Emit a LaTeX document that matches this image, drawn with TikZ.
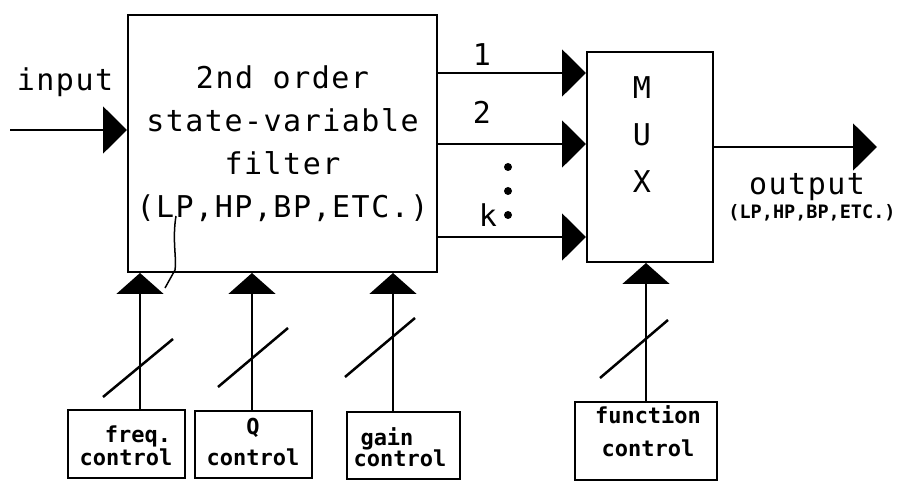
\documentclass[tikz,border=0pt]{standalone}
\usepackage{fontspec}
\newfontfamily\dmono[LetterSpace=5]{DejaVu Sans Mono}
\newfontfamily\dmonob{DejaVu Sans Mono}
\usetikzlibrary{arrows.meta}
\begin{document}
\begin{tikzpicture}[x=1pt,y=-1pt, line width=2pt,
  box/.style={draw, line width=2pt, inner sep=0pt},
  bigr/.style={-{Triangle[length=24pt,width=47pt]}},
  bigu/.style={-{Triangle[length=21pt,width=47pt]}},
  slash/.style={line width=2.5pt},
  maintext/.style={font=\dmono\fontsize{30}{43}\selectfont, inner sep=0pt},
  muxtext/.style={font=\dmono\fontsize{30}{47}\selectfont, inner sep=0pt, align=center},
  smalltext/.style={font=\dmonob\bfseries\fontsize{18.5}{20}\selectfont, inner sep=0pt},
  ctrltext/.style={font=\dmonob\bfseries\fontsize{22}{23}\selectfont, align=center, inner sep=0pt},
  dot/.style={circle, fill, inner sep=0pt, minimum size=8pt},
]
\useasboundingbox (0,0) rectangle (898,481);
\fill[white] (0,0) rectangle (898,481);

% main blocks
\node[box, minimum width=309pt, minimum height=257pt, align=center, maintext] (filt) at (282.5,143.5)
  {2nd order\\state-variable\\filter\\(LP,HP,BP,ETC.)};
\node[box, minimum width=126pt, minimum height=210pt] (mux) at (650,157) {};
\node[muxtext] (muxT) at (642,135) {M\\U\\X};

% input
\coordinate (inS) at (10,130);
\draw[bigr] (inS) -- (filt.west |- inS);
\node[maintext] (inL) at (65,82) {input};

% filter outputs to mux
\coordinate (y1) at (0,73);
\coordinate (y2) at (0,144);
\coordinate (yk) at (0,237);
\draw[bigr] (filt.east |- y1) -- (mux.west |- y1);
\draw[bigr] (filt.east |- y2) -- (mux.west |- y2);
\draw[bigr] (filt.east |- yk) -- (mux.west |- yk);
\node[maintext] (l1) at (482,55) {1};
\node[maintext] (l2) at (482,112) {2};
\node[maintext] (lk) at (488,215) {k};
\node[dot] (d1) at (508,167) {};
\node[dot] (d2) at (508,191) {};
\node[dot] (d3) at (508,215) {};

% output
\coordinate (outE) at (877,147);
\draw[bigr] (mux.east |- outE) -- (outE);
\node[maintext] (outL) at (807,187) {output};
\node[smalltext] (outS) at (812,213) {(LP,HP,BP,ETC.)};

% control boxes
\node[box, minimum width=117pt, minimum height=68pt] (fc) at (126.5,444) {};
\node[box, minimum width=117pt, minimum height=67pt] (qc) at (253.5,444.5) {};
\node[box, minimum width=113pt, minimum height=67pt] (gc) at (403.5,445.5) {};
\node[box, minimum width=142pt, minimum height=78pt] (fnc) at (646,441) {};
\node[ctrltext] (fcT) at (126,446) {\hspace*{24pt}freq.\\control};
\node[ctrltext] (qcT) at (253,442) {Q\\[8pt]control};
\node[ctrltext] (gcT) at (400,447) {gain\hspace*{26pt}\\[-2pt]control};
\node[ctrltext] (fncT) at (648,431) {function\\[10pt]control};

% control arrows
\coordinate (xf) at (140,0);
\coordinate (xq) at (252,0);
\coordinate (xg) at (393,0);
\coordinate (xm) at (646,0);
\draw[bigu] (fc.north -| xf) -- (filt.south -| xf);
\draw[bigu] (qc.north -| xq) -- (filt.south -| xq);
\draw[bigu] (gc.north -| xg) -- (filt.south -| xg);
\draw[bigu] (fnc.north -| xm) -- (mux.south -| xm);

% bus slashes
\draw[slash] (103,397) -- (173,339);
\draw[slash] (218,387) -- (288,328);
\draw[slash] (345,377) -- (415,318);
\draw[slash] (600,378) -- (668,320);

% pen mark in filter box
\draw[line width=1.5pt] (176,216) .. controls (172,240) and (177,260) .. (175,270) -- (165,288);
\end{tikzpicture}
\end{document}
